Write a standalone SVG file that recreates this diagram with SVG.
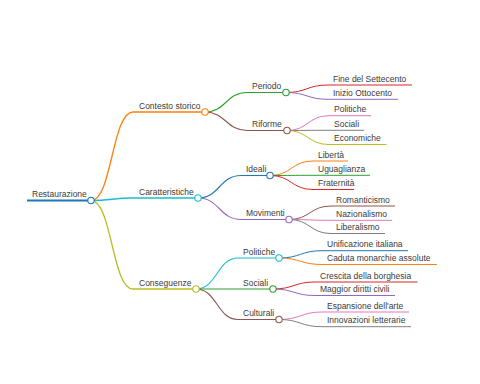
<svg xmlns="http://www.w3.org/2000/svg" width="480" height="384" viewBox="0 0 480 384">
<style>
text{font-family:"Liberation Sans",Arial,sans-serif;font-size:8.5px;fill:#3a3a3a}
path,line{fill:none}
circle{fill:#fff}
.l0{stroke-width:1.8}
.l1{stroke-width:1.3}
.l2{stroke-width:1.1}
.l3{stroke-width:1}
.c0{stroke:#1f77b4}.c1{stroke:#ff7f0e}.c2{stroke:#2ca02c}.c3{stroke:#d62728}.c4{stroke:#9467bd}
.c5{stroke:#8c564b}.c6{stroke:#e377c2}.c7{stroke:#7f7f7f}.c8{stroke:#bcbd22}.c9{stroke:#17becf}
circle{stroke-width:1.1}
</style>
<rect width="480" height="384" fill="#fff"/>
<g id="connectors">
<path class="l1 c1" d="M91 200.5 C112 200.5 112 112 133 112"/>
<path class="l1 c9" d="M91 200.5 C112 200.5 112 198 133 198"/>
<path class="l1 c8" d="M91 200.5 C112 200.5 112 289 133 289"/>
<path class="l2 c2" d="M205 112 C226 112 226 92.5 247 92.5"/>
<path class="l2 c5" d="M205 112 C226 112 226 130.5 247 130.5"/>
<path class="l2 c0" d="M198 198 C219.5 198 219.5 175.5 241 175.5"/>
<path class="l2 c4" d="M198 198 C219.5 198 219.5 219.5 241 219.5"/>
<path class="l2 c9" d="M196 289 C217 289 217 258 238 258"/>
<path class="l2 c2" d="M196 289 C217 289 217 289 238 289"/>
<path class="l2 c5" d="M196 289 C217 289 217 319.5 238 319.5"/>
<path class="l3 c3" d="M286 92.5 C307 92.5 307 85 328 85"/>
<path class="l3 c4" d="M286 92.5 C307 92.5 307 99.3 328 99.3"/>
<path class="l3 c6" d="M287 130.5 C308 130.5 308 115.7 329 115.7"/>
<path class="l3 c7" d="M287 130.5 C308 130.5 308 130.3 329 130.3"/>
<path class="l3 c8" d="M287 130.5 C308 130.5 308 144.5 329 144.5"/>
<path class="l3 c1" d="M270 175.5 C291.5 175.5 291.5 161 313 161"/>
<path class="l3 c2" d="M270 175.5 C291.5 175.5 291.5 175.3 313 175.3"/>
<path class="l3 c3" d="M270 175.5 C291.5 175.5 291.5 189.5 313 189.5"/>
<path class="l3 c5" d="M289 219.5 C310 219.5 310 206 331 206"/>
<path class="l3 c6" d="M289 219.5 C310 219.5 310 220.3 331 220.3"/>
<path class="l3 c7" d="M289 219.5 C310 219.5 310 233.5 331 233.5"/>
<path class="l3 c0" d="M279 258 C300.5 258 300.5 250.7 322 250.7"/>
<path class="l3 c1" d="M279 258 C300.5 258 300.5 264.5 322 264.5"/>
<path class="l3 c3" d="M273 289 C294 289 294 282 315 282"/>
<path class="l3 c4" d="M273 289 C294 289 294 295.5 315 295.5"/>
<path class="l3 c6" d="M279 319.5 C300.5 319.5 300.5 312 322 312"/>
<path class="l3 c7" d="M279 319.5 C300.5 319.5 300.5 326.7 322 326.7"/>
</g>
<g id="n-root"><line class="l0 c0" x1="27" y1="200.5" x2="91" y2="200.5"/><circle class="c0" cx="91" cy="200.5" r="3.2"/><text x="32" y="197">Restaurazione</text></g>
<g id="n-contesto"><line class="l1 c1" x1="133" y1="112" x2="205" y2="112"/><circle class="c1" cx="205" cy="112" r="3.2"/><text x="139" y="108.5">Contesto storico</text></g>
<g id="n-caratteristiche"><line class="l1 c9" x1="133" y1="198" x2="198" y2="198"/><circle class="c9" cx="198" cy="198" r="3.2"/><text x="139" y="194.5">Caratteristiche</text></g>
<g id="n-conseguenze"><line class="l1 c8" x1="133" y1="289" x2="196" y2="289"/><circle class="c8" cx="196" cy="289" r="3.2"/><text x="139" y="285.5">Conseguenze</text></g>
<g id="n-periodo"><line class="l2 c2" x1="247" y1="92.5" x2="286" y2="92.5"/><circle class="c2" cx="286" cy="92.5" r="3.2"/><text x="252" y="89">Periodo</text></g>
<g id="n-riforme"><line class="l2 c5" x1="247" y1="130.5" x2="287" y2="130.5"/><circle class="c5" cx="287" cy="130.5" r="3.2"/><text x="252" y="127">Riforme</text></g>
<g id="n-ideali"><line class="l2 c0" x1="241" y1="175.5" x2="270" y2="175.5"/><circle class="c0" cx="270" cy="175.5" r="3.2"/><text x="246" y="172">Ideali</text></g>
<g id="n-movimenti"><line class="l2 c4" x1="241" y1="219.5" x2="289" y2="219.5"/><circle class="c4" cx="289" cy="219.5" r="3.2"/><text x="246" y="216">Movimenti</text></g>
<g id="n-politiche2"><line class="l2 c9" x1="238" y1="258" x2="279" y2="258"/><circle class="c9" cx="279" cy="258" r="3.2"/><text x="243" y="254.5">Politiche</text></g>
<g id="n-sociali2"><line class="l2 c2" x1="238" y1="289" x2="273" y2="289"/><circle class="c2" cx="273" cy="289" r="3.2"/><text x="243" y="285.5">Sociali</text></g>
<g id="n-culturali"><line class="l2 c5" x1="238" y1="319.5" x2="279" y2="319.5"/><circle class="c5" cx="279" cy="319.5" r="3.2"/><text x="243" y="316">Culturali</text></g>
<g id="n-fine"><line class="l3 c3" x1="328" y1="85" x2="412" y2="85"/><text x="333" y="81.5">Fine del Settecento</text></g>
<g id="n-inizio"><line class="l3 c4" x1="328" y1="99.3" x2="398" y2="99.3"/><text x="333" y="96">Inizio Ottocento</text></g>
<g id="n-politiche1"><line class="l3 c6" x1="329" y1="115.7" x2="371" y2="115.7"/><text x="334" y="112.2">Politiche</text></g>
<g id="n-sociali1"><line class="l3 c7" x1="329" y1="130.3" x2="364" y2="130.3"/><text x="334" y="126.8">Sociali</text></g>
<g id="n-economiche"><line class="l3 c8" x1="329" y1="144.5" x2="386.5" y2="144.5"/><text x="334" y="141">Economiche</text></g>
<g id="n-liberta"><line class="l3 c1" x1="313" y1="161" x2="348" y2="161"/><text x="318" y="157.5">Libertà</text></g>
<g id="n-uguaglianza"><line class="l3 c2" x1="313" y1="175.3" x2="370" y2="175.3"/><text x="318" y="171.8">Uguaglianza</text></g>
<g id="n-fraternita"><line class="l3 c3" x1="313" y1="189.5" x2="354" y2="189.5"/><text x="318" y="186">Fraternità</text></g>
<g id="n-romanticismo"><line class="l3 c5" x1="331" y1="206" x2="395" y2="206"/><text x="336" y="202.5">Romanticismo</text></g>
<g id="n-nazionalismo"><line class="l3 c6" x1="331" y1="220.3" x2="392" y2="220.3"/><text x="336" y="216.8">Nazionalismo</text></g>
<g id="n-liberalismo"><line class="l3 c7" x1="331" y1="233.5" x2="385" y2="233.5"/><text x="336" y="230">Liberalismo</text></g>
<g id="n-unificazione"><line class="l3 c0" x1="322" y1="250.7" x2="408" y2="250.7"/><text x="327" y="247.2">Unificazione italiana</text></g>
<g id="n-caduta"><line class="l3 c1" x1="322" y1="264.5" x2="437" y2="264.5"/><text x="327" y="261">Caduta monarchie assolute</text></g>
<g id="n-crescita"><line class="l3 c3" x1="315" y1="282" x2="417.5" y2="282"/><text x="320" y="278.5">Crescita della borghesia</text></g>
<g id="n-maggior"><line class="l3 c4" x1="315" y1="295.5" x2="395" y2="295.5"/><text x="320" y="292">Maggior diritti civili</text></g>
<g id="n-espansione"><line class="l3 c6" x1="322" y1="312" x2="409" y2="312"/><text x="327" y="308.5">Espansione dell'arte</text></g>
<g id="n-innovazioni"><line class="l3 c7" x1="322" y1="326.7" x2="411" y2="326.7"/><text x="327" y="323.2">Innovazioni letterarie</text></g>
</svg>
